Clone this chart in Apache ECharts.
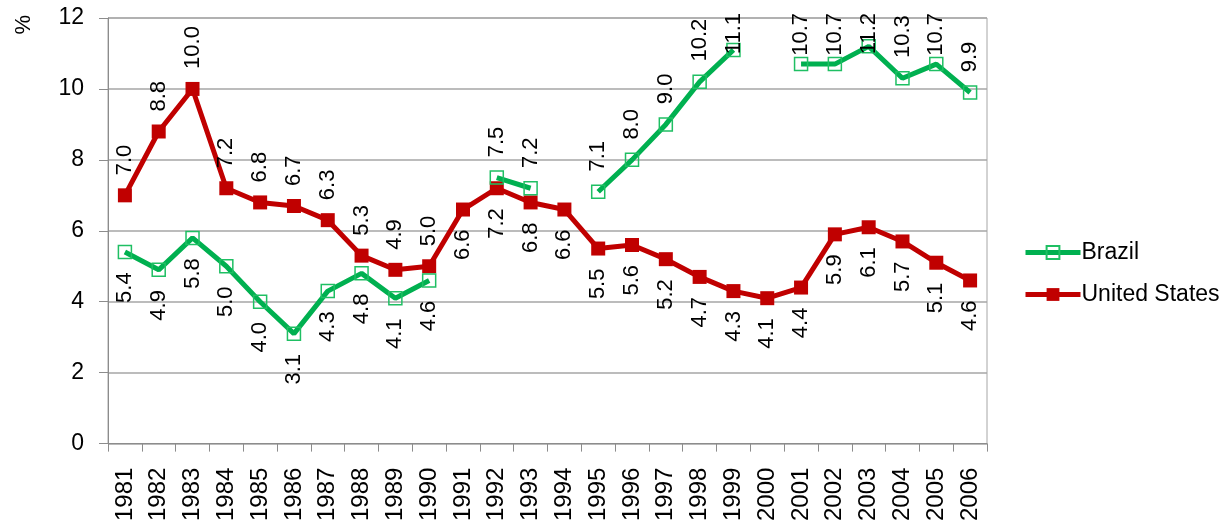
<!DOCTYPE html>
<html>
<head>
<meta charset="utf-8">
<script src="https://cdn.jsdelivr.net/npm/echarts@6/dist/echarts.min.js"></script>
<style>
html,body{margin:0;padding:0;background:#fff;}
#chart{width:1231px;height:524px;}
</style>
</head>
<body>
<div id="chart"></div>
<script>
var years = ['1981','1982','1983','1984','1985','1986','1987','1988','1989','1990','1991','1992','1993','1994','1995','1996','1997','1998','1999','2000','2001','2002','2003','2004','2005','2006'];
var brazil = [5.4,4.9,5.8,5.0,4.0,3.1,4.3,4.8,4.1,4.6,null,7.5,7.2,null,7.1,8.0,9.0,10.2,11.1,null,10.7,10.7,11.2,10.3,10.7,9.9];
var unitedStates = [7.0,8.8,10.0,7.2,6.8,6.7,6.3,5.3,4.9,5.0,6.6,7.2,6.8,6.6,5.5,5.6,5.2,4.7,4.3,4.1,4.4,5.9,6.1,5.7,5.1,4.6];
var yTicks = [0,2,4,6,8,10,12];

var FONT = '"Liberation Sans", Arial, sans-serif';
var GREEN = '#00B050', RED = '#C00000';
var SPLIT = 10; // labels switch side from 1991 on
var TOP_LIMIT = 13;

function labelFor(above) {
  return above
    ? {show:true, position:'top', distance:13, rotate:90, align:'left', verticalAlign:'middle', offset:[0,0]}
    : {show:true, position:'bottom', distance:13, rotate:90, align:'right', verticalAlign:'middle'};
}
function build(values, firstAbove) {
  return values.map(function(v, i){
    var above = i < SPLIT ? firstAbove : !firstAbove;
    return {value: v, label: labelFor(above)};
  });
}
function clampTop(p) {
  var r = p.labelRect;
  if (r && r.y < TOP_LIMIT) {
    return {
      x: r.x + r.width / 2,
      y: TOP_LIMIT + r.height,
      rotate: 90, align: 'left', verticalAlign: 'middle'
    };
  }
}

var chart = echarts.init(document.getElementById('chart'), null, {renderer:'canvas'});
var baseLabel = {
  formatter: function(p){ return p.value == null ? '' : Number(p.value).toFixed(1); },
  color:'#000', fontFamily: FONT, fontSize: 22
};
chart.setOption({
  animation:false,
  backgroundColor:'#fff',
  grid:{left:108, right:244, top:18, bottom:79, show:true, borderColor:'#a6a6a6', borderWidth:1},
  legend:{
    orient:'vertical', left:1018, top:236, itemWidth:55, itemHeight:16, itemGap:19,
    lineStyle:{width:5},
    textStyle:{fontFamily:FONT, fontSize:23, color:'#000', padding:[0,0,0,-4]},
    data:['Brazil','United States']
  },
  graphic:[{type:'text', left:13, top:15, rotation:Math.PI/2, style:{text:'%', font:'22px '+FONT, fill:'#000'}}],
  xAxis:{
    type:'category', data:years, boundaryGap:true,
    axisLine:{lineStyle:{color:'#8c8c8c', width:1}},
    axisTick:{show:true, alignWithLabel:false, length:8, lineStyle:{color:'#8c8c8c'}},
    axisLabel:{rotate:90, margin:24, color:'#000', fontFamily:FONT, fontSize:24, interval:0}
  },
  yAxis:{
    type:'value', min:yTicks[0], max:yTicks[yTicks.length-1], interval:2,
    axisLine:{show:true, lineStyle:{color:'#8c8c8c', width:1}},
    axisTick:{show:true, length:9, lineStyle:{color:'#8c8c8c'}},
    axisLabel:{margin:24, color:'#000', fontFamily:FONT, fontSize:23},
    splitLine:{lineStyle:{color:'#a6a6a6', width:1.5}}
  },
  series:[
    {
      name:'Brazil', type:'line', data:build(brazil, false), connectNulls:false,
      showSymbol:true, showAllSymbol:true, symbol:'rect', symbolSize:13,
      lineStyle:{color:GREEN, width:5},
      itemStyle:{color:'rgba(255,255,255,0)', borderColor:'#1fbf63', borderWidth:1.5},
      label:baseLabel, labelLayout:clampTop, z:3
    },
    {
      name:'United States', type:'line', data:build(unitedStates, true), connectNulls:false,
      showSymbol:true, showAllSymbol:true, symbol:'rect', symbolSize:14,
      lineStyle:{color:RED, width:5},
      itemStyle:{color:RED, borderWidth:0},
      label:baseLabel, labelLayout:clampTop, z:2
    }
  ]
});
</script>
</body>
</html>
